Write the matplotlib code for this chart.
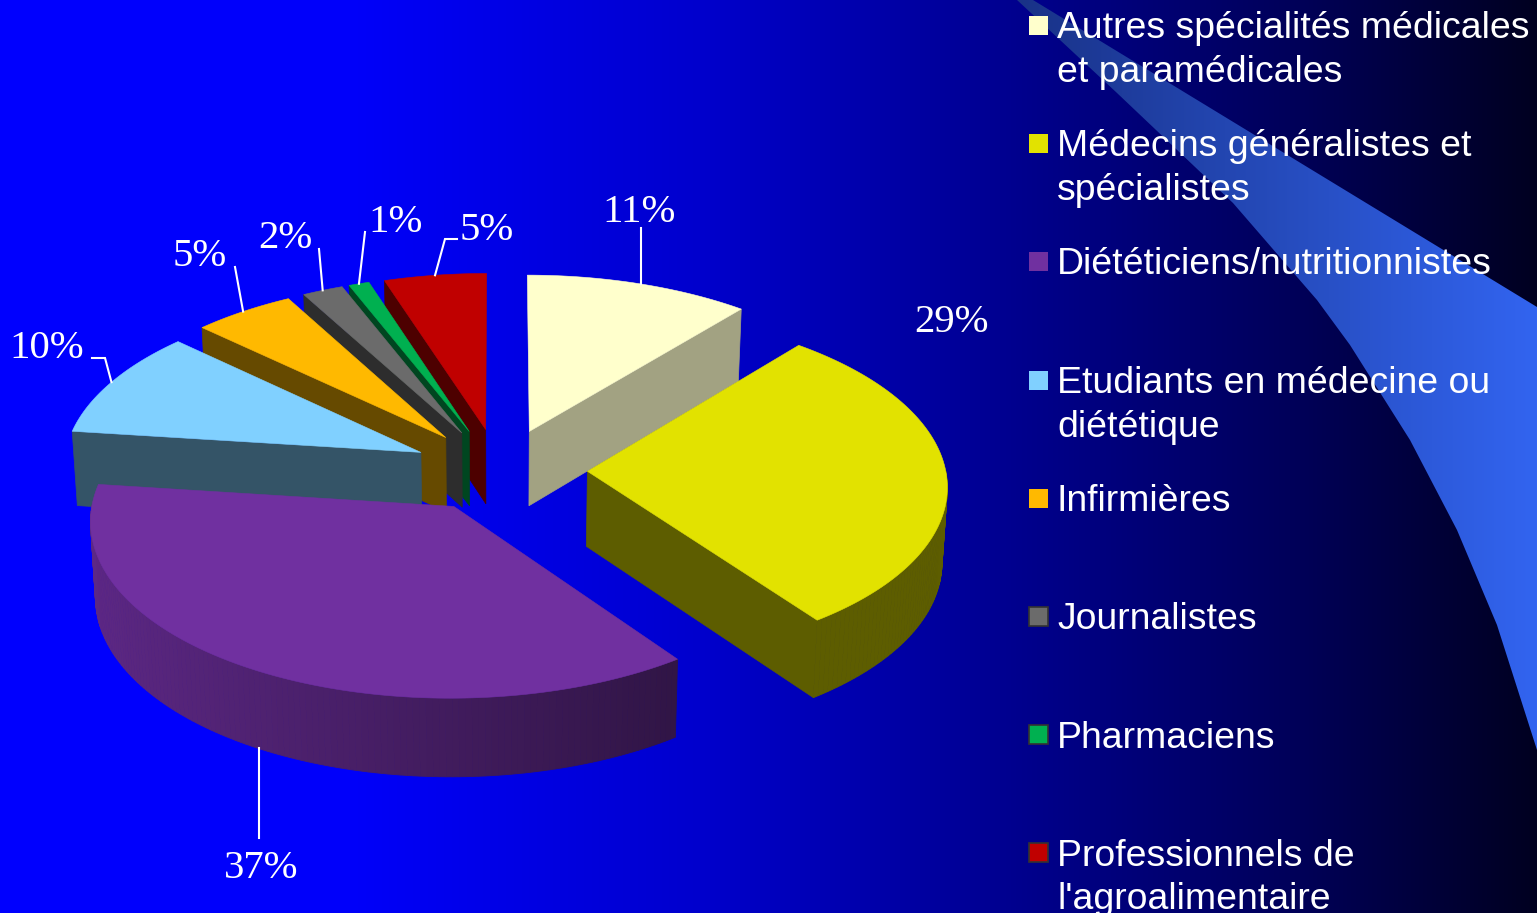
import numpy as np
import matplotlib
matplotlib.use("Agg")
import matplotlib.pyplot as plt
from matplotlib.patches import Polygon

# ---------- data ----------
categories = ["Autres spécialités médicales\net paramédicales",
              "Médecins généralistes et\nspécialistes",
              "Diététiciens/nutritionnistes",
              "Etudiants en médecine ou\ndiététique",
              "Infirmières",
              "Journalistes",
              "Pharmaciens",
              "Professionnels de\nl'agroalimentaire"]
shares = [11, 29, 37, 10, 5, 2, 1, 5]
labels = ["11%", "29%", "37%", "10%", "5%", "2%", "1%", "5%"]

# ---------- styles ----------
colors = ["#FFFFCC", "#E2E200", "#7030A0", "#80D0FF", "#FFB900", "#6B6B6B", "#00B050", "#C00000"]
wall_shade = [0.635, 0.41, 0.41, 0.405, 0.4, 0.42, 0.4, 0.4]
nudge_x = [0.5, 1.0, -1.5, -1.5, -2, -2, -2, -1]
radius_scale = [1.0, 0.995, 0.99, 0.995, 1.0, 1.0, 1.0, 1.0]
draw_order = [7, 6, 5, 4, 3, 0, 1, 2]
legend_y = [25.5, 143.5, 261.5, 380.5, 498.5, 616.5, 735, 853]
label_xy = [(639, 209), (952, 319), (261, 865), (47, 346), (200, 254), (285, 236), (396, 219), (487, 227)]
leader_from = [[(640.5, 228)], None, [(259, 838)], [(92, 358), (105, 358)], [(235, 267)], [(319, 249)],
               [(365, 232)], [(457, 239), (445, 239)]]
leader_vertical = [True, False, True, False, False, False, False, False]

CX, CY, A, B, K, EXPLODE = 500.0, 470.0, 360.0, 173.6, 0.075, 0.24


def project(x, y, dx=0.0):
    w = 1 + K * y
    return CX + dx + A * x / w, CY - B * y / w


def drop(sx, sy, y):
    return CX + (sx - CX) * 0.988, sy + 75 * (1 - 0.04 * y)


def world(theta, mid, r=1.0):
    return (EXPLODE * np.sin(mid) + r * np.sin(theta),
            EXPLODE * np.cos(mid) + r * np.cos(theta))


fig = plt.figure(figsize=(15.37, 9.13), dpi=100)
ax = fig.add_axes([0, 0, 1, 1])
ax.set_xlim(0, 1537)
ax.set_ylim(913, 0)
ax.axis("off")

# background gradient
xs = np.arange(1537)
blue = np.interp(xs, [0, 350, 700, 1000, 1300, 1537], [255, 250, 205, 145, 88, 32])
bg = np.zeros((1, 1537, 3))
bg[..., 2] = blue / 255
ax.imshow(bg, extent=(0, 1537, 913, 0), aspect="auto", zorder=0, interpolation="bilinear")

# swoosh
t = np.linspace(0, 1, 256)
sw = np.zeros((1, 256, 3))
sw[0, :, 0] = (25 + 25 * t) / 255
sw[0, :, 1] = (50 + 50 * t) / 255
sw[0, :, 2] = (135 + 105 * t) / 255
im = ax.imshow(sw, extent=(1017, 1537, 913, 0), aspect="auto", zorder=1)
swoosh = Polygon([(1017, 0), (1033, 0), (1537, 307), (1537, 750), (1497, 625), (1457, 530), (1410, 440),
                  (1350, 345), (1317, 300), (1233, 203), (1117, 93)],
                 closed=True, transform=ax.transData, fc="none", ec="none")
ax.add_patch(swoosh)
im.set_clip_path(swoosh)
ax.set_xlim(0, 1537)
ax.set_ylim(913, 0)

# pie
fracs = np.array(shares, float) / sum(shares)
edges = np.concatenate([[0], np.cumsum(fracs)]) * 2 * np.pi
z = 2.0
mids = (edges[:-1] + edges[1:]) / 2


def rgb(c):
    return np.array(matplotlib.colors.to_rgb(c))


for i in draw_order:
    t0, t1, mid = edges[i], edges[i + 1], mids[i]
    col = rgb(colors[i])
    dx = nudge_x[i]
    r = radius_scale[i]
    th = np.linspace(t0, t1, max(int((t1 - t0) * 60), 3))
    wx, wy = world(th, mid, r)
    sx, sy = project(wx, wy, dx)
    ox, oy = world(0.0, mid, r=0.0)
    ax0, ay0 = project(ox, oy, dx)
    # radial walls facing the viewer
    for ang, norm in ((t0, t0 - np.pi / 2), (t1, t1 + np.pi / 2)):
        if np.cos(norm) < 0:
            ex, ey = world(ang, mid, r)
            px, py = project(ex, ey, dx)
            a2 = drop(ax0, ay0, oy)
            p2 = drop(px, py, ey)
            c = col * wall_shade[i]
            ax.add_patch(Polygon([(ax0, ay0), (px, py), p2, a2], fc=c, ec=c, lw=0.5, zorder=z))
            z += 0.001
    # outer wall, front-facing part
    for j in range(len(th) - 1):
        m = (th[j] + th[j + 1]) / 2
        if np.cos(m) < 0:
            s = max(0.4, 0.58 - 0.25 * np.sin(m)) if i == 2 else wall_shade[i]
            c = col * s
            b0 = drop(sx[j], sy[j], wy[j])
            b1 = drop(sx[j + 1], sy[j + 1], wy[j + 1])
            ax.add_patch(Polygon([(sx[j], sy[j]), (sx[j + 1], sy[j + 1]), b1, b0], fc=c, ec=c, lw=0.6, zorder=z))
            z += 0.001
    # top face
    ax.add_patch(Polygon(np.column_stack([np.r_[ax0, sx], np.r_[ay0, sy]]), fc=col, ec=col, lw=0.4, zorder=z))
    z += 0.001

# leaders and labels
for i, lab in enumerate(labels):
    ax.text(label_xy[i][0], label_xy[i][1] + 3, lab, color="white", fontsize=29.3, family="Liberation Serif",
            ha="center", va="center", zorder=20)
    if leader_from[i] is None:
        continue
    ex, ey = world(mids[i], mids[i], radius_scale[i])
    px, py = project(ex, ey, nudge_x[i])
    if np.cos(mids[i]) < 0:
        px, py = drop(px, py, ey)
    if leader_vertical[i]:
        px = leader_from[i][-1][0]
    pts = leader_from[i] + [(px, py)]
    ax.plot([p[0] for p in pts], [p[1] for p in pts], color="white", lw=1.5, zorder=19, solid_joinstyle="miter")

# legend
for i, cat in enumerate(categories):
    y = legend_y[i]
    dark = i >= 5
    ax.add_patch(Polygon([(1029, y - 9.5), (1047.5, y - 9.5), (1047.5, y + 9.5), (1029, y + 9.5)],
                         fc=colors[i], ec="#333333" if dark else colors[i], lw=1.2 if dark else 0, zorder=20))
    for n, line in enumerate(cat.split("\n")):
        ax.text(1057, y + 12.8 + 43.5 * n, line, color="white", fontsize=26.9, family="Liberation Sans",
                ha="left", va="baseline", zorder=20, clip_on=False)

fig.savefig("out.png", dpi=100)
